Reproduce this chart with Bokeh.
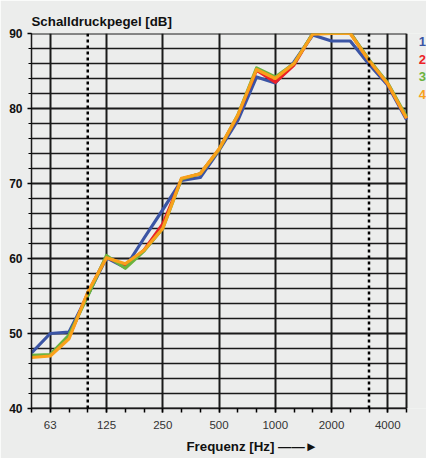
from bokeh.plotting import figure
from bokeh.models import Range1d, FixedTicker, Span, Title
from bokeh.core.properties import value
from bokeh.embed import file_html
from bokeh.resources import INLINE

# third-octave band centre frequencies (Hz)
bands = ["50", "63", "80", "100", "125", "160", "200", "250", "315", "400", "500",
         "630", "800", "1000", "1250", "1600", "2000", "2500", "3150", "4000", "5000"]
tick_bands = ["63", "125", "250", "500", "1000", "2000", "4000"]
dotted_bands = ["100", "3150"]

# sound pressure level (dB) per band
s1 = [47.4, 50.0, 50.2, 55.1, 60.1, 58.8, 62.7, 66.5, 70.4, 70.8, 74.4,
      78.4, 84.2, 83.4, 86.2, 89.8, 89.0, 89.0, 85.9, 83.1, 78.5]
s2 = [46.9, 47.1, 49.5, 55.4, 60.2, 59.0, 61.1, 64.6, 70.6, 71.3, 74.5,
      79.0, 85.1, 83.5, 85.8, 90.0, 90.4, 90.1, 86.4, 83.3, 78.7]
s3 = [47.1, 47.2, 49.8, 55.0, 60.4, 58.7, 61.0, 64.0, 70.6, 71.3, 74.5,
      79.1, 85.4, 84.2, 86.0, 90.0, 90.1, 90.1, 86.5, 83.4, 78.9]
s4 = [46.8, 47.0, 49.3, 55.5, 60.1, 59.3, 61.1, 64.0, 70.7, 71.3, 74.6,
      79.1, 85.2, 84.0, 86.0, 89.9, 90.0, 90.0, 86.4, 83.3, 78.7]
series_names = ["1", "2", "3", "4"]
series = [s1, s2, s3, s4]
colors = ["#3b55a5", "#ec2227", "#6bb33f", "#f9a11b"]

y_major = [40, 50, 60, 70, 80, 90]
y_minor = list(range(40, 91, 2))

FONT = "Liberation Sans"
BG = "#ecedec"
INK = "#1a1a1a"

x = list(range(len(bands)))
last = len(bands) - 1
px_per_band = 18.75
frame_w = 395
x_end = frame_w / px_per_band  # frame extends right to hold the legend numbers

p = figure(width=426, height=458, output_backend="svg", toolbar_location=None,
           x_range=Range1d(0, x_end), y_range=Range1d(40, 90),
           min_border_left=31, min_border_right=0, min_border_top=33, min_border_bottom=46)
p.background_fill_color = BG
p.border_fill_color = BG
p.outline_line_color = None

p.title.text = "Schalldruckpegel [dB]"
p.title.align = "left"
p.title.text_font = FONT
p.title.text_font_size = "13.3px"
p.title.text_font_style = "bold"
p.title.text_color = "#111111"
p.title.standoff = 9

# axes
major_idx = [bands.index(b) for b in tick_bands]
p.xaxis.bounds = (0, last)
p.xaxis.ticker = FixedTicker(ticks=major_idx, minor_ticks=x)
p.xaxis.major_label_overrides = {i: b for i, b in zip(major_idx, tick_bands)}
p.xaxis.major_label_text_font = FONT
p.xaxis.major_label_text_font_size = "11.5px"
p.xaxis.major_label_text_color = "#333333"
p.xaxis.major_label_standoff = 8
p.xaxis.major_tick_in = 0
p.xaxis.major_tick_out = 4
p.xaxis.minor_tick_in = 0
p.xaxis.minor_tick_out = 4
p.xaxis.axis_line_width = 1.5
p.xaxis.axis_line_color = INK
p.xaxis.major_tick_line_width = 1.5
p.xaxis.minor_tick_line_width = 1.5

p.yaxis.ticker = FixedTicker(ticks=y_major, minor_ticks=y_minor)
p.yaxis.major_label_text_font = FONT
p.yaxis.major_label_text_font_size = "12px"
p.yaxis.major_label_text_font_style = "bold"
p.yaxis.major_label_text_color = "#111111"
p.yaxis.major_label_standoff = 5
p.yaxis.major_tick_in = 0
p.yaxis.major_tick_out = 4
p.yaxis.minor_tick_in = 0
p.yaxis.minor_tick_out = 3
p.yaxis.axis_line_width = 1.5
p.yaxis.axis_line_color = INK
p.yaxis.major_tick_line_width = 1.5
p.yaxis.minor_tick_line_width = 1.2

# vertical octave grid lines
p.xgrid.ticker = FixedTicker(ticks=major_idx + [last])
p.xgrid.grid_line_color = INK
p.xgrid.grid_line_width = 2
p.ygrid.grid_line_color = None

# horizontal grid lines limited to the data area
minor_only = [v for v in y_minor if v not in y_major]
p.segment(x0=0, x1=last, y0=minor_only, y1=minor_only, line_color=INK, line_width=1.5)
p.segment(x0=0, x1=last, y0=y_major, y1=y_major, line_color=INK, line_width=2)

for b in dotted_bands:
    p.add_layout(Span(location=bands.index(b), dimension="height", line_color="black",
                      line_width=2.5, line_dash="3 3"))

# series
for name, vals, c in zip(series_names, series, colors):
    p.line(x, vals, line_color=c, line_width=3.2, line_join="round")

# legend numbers to the right of the data area
leg_x = [last + 0.85] * len(series_names)
leg_y = [88.93 - k * 2.36 for k in range(len(series_names))]
p.text(x=leg_x, y=leg_y, text=series_names, text_color=colors,
       text_font=value(FONT), text_font_size="13px", text_font_style="bold",
       text_align="center", text_baseline="middle")

# x axis title with arrow
p.add_layout(Title(text="Frequenz [Hz] \u2014\u2014\u25ba", align="left", offset=155,
                   text_font=FONT, text_font_size="13.3px", text_font_style="bold",
                   text_color="#111111"),
             "below")

open("out.html", "w").write(file_html(p, INLINE))
